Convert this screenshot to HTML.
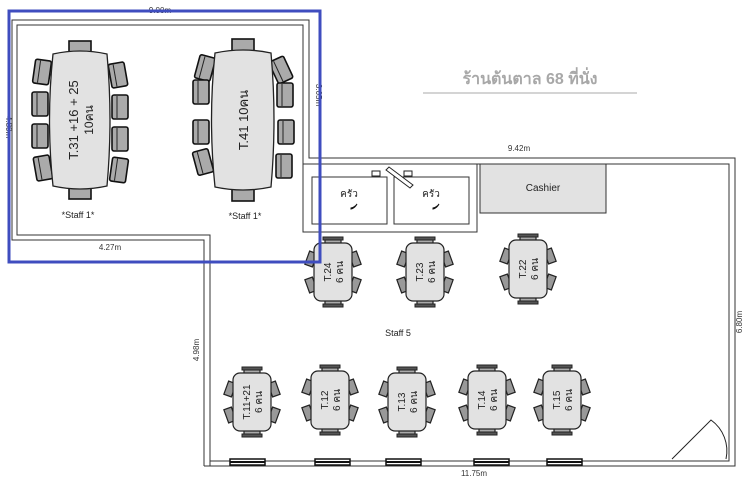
<!DOCTYPE html>
<html><head><meta charset="utf-8"><style>
html,body{margin:0;padding:0;background:#fff;}
svg{display:block;font-family:"Liberation Sans","Noto Sans CJK SC",sans-serif;}
</style></head><body>
<svg width="750" height="504" viewBox="0 0 750 504" xmlns="http://www.w3.org/2000/svg">
<defs>
  <g id="st">
    <rect x="-8" y="-33" width="16" height="6" fill="#aaa" stroke="#222" stroke-width="1.2"/>
    <rect x="-10" y="-35" width="20" height="3" fill="#555" stroke="#222"/>
    <rect x="-8" y="27" width="16" height="6" fill="#aaa" stroke="#222" stroke-width="1.2"/>
    <rect x="-10" y="32" width="20" height="3" fill="#555" stroke="#222"/>
    <g fill="#999" stroke="#222" stroke-width="1.2">
      <rect x="-26" y="-20" width="8" height="14" transform="rotate(20 -22 -13)"/>
      <rect x="-26" y="6" width="8" height="14" transform="rotate(-20 -22 13)"/>
      <rect x="18" y="-20" width="8" height="14" transform="rotate(-20 22 -13)"/>
      <rect x="18" y="6" width="8" height="14" transform="rotate(20 22 13)"/>
    </g>
    <rect x="-19" y="-29" width="38" height="58" rx="7" fill="#e2e2e2" stroke="#222" stroke-width="1.2"/>
  </g>
  <g id="bc">
    <rect x="-8" y="-12" width="16" height="24" rx="2" fill="#aaa" stroke="#111" stroke-width="1.6"/>
    <line x1="-3" y1="-11" x2="-3" y2="11" stroke="#222"/>
  </g>
</defs>

<g fill="none" stroke="#333" stroke-width="1">
  <polyline points="210,466 210,235 17,235 17,25 303,25 303,164"/>
  <polyline points="204,466 204,240 12,240 12,20 309,20 309,158 735,158 735,466 204,466"/>
  <polyline points="303,164 729,164 729,461 210,461"/>
  <rect x="303" y="164" width="174" height="68"/>
  <rect x="312" y="177" width="75" height="47"/>
  <rect x="394" y="177" width="75" height="47"/>
</g>
<rect x="480" y="164" width="126" height="49" fill="#e2e2e2" stroke="#333"/>
<text x="543" y="191" font-size="10" text-anchor="middle" fill="#222">Cashier</text>
<text x="349" y="197" font-size="10" text-anchor="middle" fill="#222">ครัว</text>
<text x="431" y="197" font-size="10" text-anchor="middle" fill="#222">ครัว</text>
<path d="M351,208 q4,-1 6,-4 q-2,4 -6,5z" fill="#111" stroke="#111"/>
<path d="M433,208 q4,-1 6,-4 q-2,4 -6,5z" fill="#111" stroke="#111"/>
<rect x="372" y="171" width="8" height="5" fill="#fff" stroke="#222"/>
<rect x="404" y="171" width="8" height="5" fill="#fff" stroke="#222"/>
<polygon points="386,170 389,167 413,185 410,188" fill="#fff" stroke="#222"/>

<g fill="#fff" stroke="#111" stroke-width="1.5">
  <rect x="230" y="459" width="35" height="6"/><rect x="315" y="459" width="35" height="6"/>
  <rect x="386" y="459" width="35" height="6"/><rect x="474" y="459" width="35" height="6"/>
  <rect x="547" y="459" width="35" height="6"/>
</g>
<g stroke="#111" stroke-width="2"><line x1="230" y1="462" x2="265" y2="462"/><line x1="315" y1="462" x2="350" y2="462"/><line x1="386" y1="462" x2="421" y2="462"/><line x1="474" y1="462" x2="509" y2="462"/><line x1="547" y1="462" x2="582" y2="462"/></g>
<path d="M672,459 L711,420 A38,38 0 0 1 726,459" fill="none" stroke="#222"/>

<g transform="translate(80,120)">
  <rect x="-11" y="-79" width="22" height="13" fill="#aaa" stroke="#111" stroke-width="1.6"/>
  <rect x="-11" y="66" width="22" height="13" fill="#aaa" stroke="#111" stroke-width="1.6"/>
  <use href="#bc" x="-38" y="-48" transform="rotate(8 -38 -48)"/><use href="#bc" x="-40" y="-16"/><use href="#bc" x="-40" y="16"/><use href="#bc" x="-37" y="48" transform="rotate(-10 -37 48)"/>
  <use href="#bc" x="38" y="-45" transform="rotate(-10 38 -45)"/><use href="#bc" x="40" y="-13"/><use href="#bc" x="40" y="19"/><use href="#bc" x="39" y="50" transform="rotate(8 39 50)"/>
  <path d="M-27,-66 Q0,-72 27,-66 Q33,0 27,66 Q0,72 -27,66 Q-34,0 -27,-66z" fill="#e2e2e2" stroke="#222" stroke-width="1.3"/>
  <text transform="rotate(-90)" x="0" y="-2" font-size="13" text-anchor="middle" fill="#222">T.31 +16 + 25</text>
  <text transform="rotate(-90)" x="0" y="13" font-size="12" text-anchor="middle" fill="#222">10คน</text>
</g>
<g transform="translate(243,120)">
  <rect x="-11" y="-81" width="22" height="13" fill="#aaa" stroke="#111" stroke-width="1.6"/>
  <rect x="-11" y="68" width="22" height="13" fill="#aaa" stroke="#111" stroke-width="1.6"/>
  <use href="#bc" x="-38" y="-52" transform="rotate(15 -38 -52)"/><use href="#bc" x="-42" y="-28"/><use href="#bc" x="-42" y="12"/><use href="#bc" x="-40" y="42" transform="rotate(-15 -40 42)"/>
  <use href="#bc" x="38" y="-50" transform="rotate(-25 38 -50)"/><use href="#bc" x="42" y="-25"/><use href="#bc" x="43" y="12"/><use href="#bc" x="41" y="46"/>
  <path d="M-28,-67 Q0,-73 28,-67 Q34,0 28,67 Q0,73 -28,67 Q-35,0 -28,-67z" fill="#e2e2e2" stroke="#222" stroke-width="1.3"/>
  <text transform="rotate(-90)" x="0" y="5" font-size="13" text-anchor="middle" fill="#222">T.41 10คน</text>
</g>
<text x="78" y="218" font-size="9" text-anchor="middle" fill="#222">*Staff 1*</text>
<text x="245" y="219" font-size="9" text-anchor="middle" fill="#222">*Staff 1*</text>

<g font-size="10" fill="#222" text-anchor="middle">
  <g transform="translate(333,272)"><use href="#st"/><text transform="rotate(-90)" x="0" y="-2">T.24</text><text transform="rotate(-90)" x="0" y="10">6 คน</text></g>
  <g transform="translate(425,272)"><use href="#st"/><text transform="rotate(-90)" x="0" y="-2">T.23</text><text transform="rotate(-90)" x="0" y="10">6 คน</text></g>
  <g transform="translate(528,269)"><use href="#st"/><text transform="rotate(-90)" x="0" y="-2">T.22</text><text transform="rotate(-90)" x="0" y="10">6 คน</text></g>
  <g transform="translate(252,402)"><use href="#st"/><text transform="rotate(-90)" x="0" y="-2">T.11+21</text><text transform="rotate(-90)" x="0" y="10">6 คน</text></g>
  <g transform="translate(330,400)"><use href="#st"/><text transform="rotate(-90)" x="0" y="-2">T.12</text><text transform="rotate(-90)" x="0" y="10">6 คน</text></g>
  <g transform="translate(407,402)"><use href="#st"/><text transform="rotate(-90)" x="0" y="-2">T.13</text><text transform="rotate(-90)" x="0" y="10">6 คน</text></g>
  <g transform="translate(487,400)"><use href="#st"/><text transform="rotate(-90)" x="0" y="-2">T.14</text><text transform="rotate(-90)" x="0" y="10">6 คน</text></g>
  <g transform="translate(562,400)"><use href="#st"/><text transform="rotate(-90)" x="0" y="-2">T.15</text><text transform="rotate(-90)" x="0" y="10">6 คน</text></g>
</g>
<text x="398" y="336" font-size="9" text-anchor="middle" fill="#222">Staff 5</text>

<g font-size="8" fill="#333" text-anchor="middle">
  <text x="160" y="13">9.00m</text>
  <text x="110" y="250">4.27m</text>
  <text x="519" y="151">9.42m</text>
  <text x="474" y="476">11.75m</text>
  <text transform="translate(6,127) rotate(90)">4.80m</text>
  <text transform="translate(316,95) rotate(90)">3.05m</text>
  <text transform="translate(199,350) rotate(-90)">4.98m</text>
  <text transform="translate(742,322) rotate(-90)">6.80m</text>
</g>

<text x="530" y="84" font-size="16" font-weight="bold" text-anchor="middle" fill="#a8a8a8">ร้านต้นตาล 68 ที่นั่ง</text>
<line x1="423" y1="93" x2="637" y2="93" stroke="#aaa"/>

<rect x="9" y="11" width="311" height="251" fill="none" stroke="#3f4dbf" stroke-width="3"/>
</svg>
</body></html>
